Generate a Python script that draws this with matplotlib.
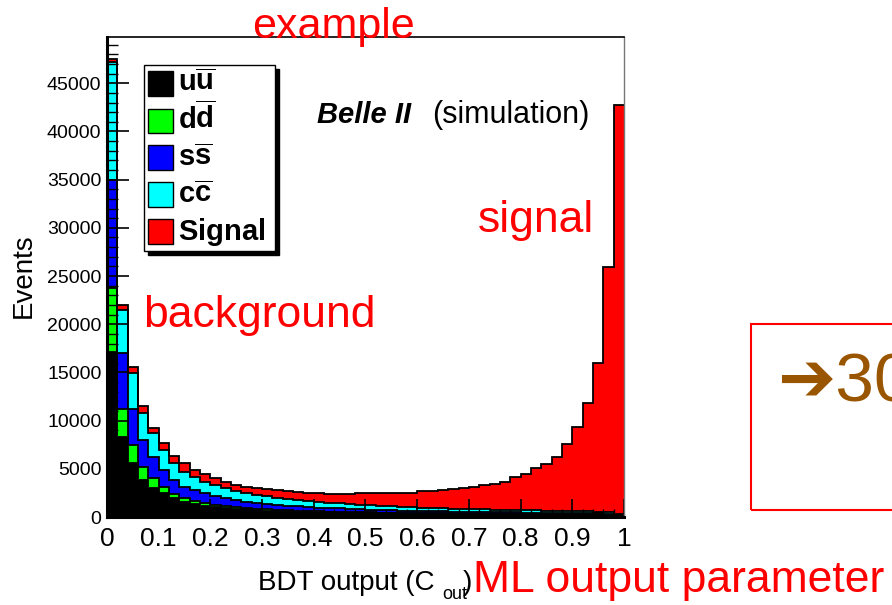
import numpy as np
from matplotlib import pyplot as plt
from matplotlib.patches import Rectangle
from matplotlib.ticker import MultipleLocator

plt.rcParams["font.family"] = ["Liberation Sans", "DejaVu Sans"]
plt.rcParams["mathtext.fontset"] = "custom"
plt.rcParams["mathtext.rm"] = "Liberation Sans"
plt.rcParams["mathtext.bf"] = "Liberation Sans:bold"
plt.rcParams["mathtext.it"] = "Liberation Sans:italic"

# 50 bins of width 0.02 on the BDT output
bin_edges = np.linspace(0.0, 1.0, 51)

uu = [17100, 8300, 5600, 3840, 3010, 2490, 1970, 1560, 1350, 1140,
      1040, 950, 860, 780, 700, 660, 620, 590, 560, 530,
      500, 480, 460, 440, 420, 405, 390, 375, 360, 350,
      340, 330, 320, 310, 300, 292, 285, 278, 272, 266,
      260, 255, 250, 245, 240, 235, 230, 225, 205, 110]
dd = [6650, 2900, 1870, 1350, 1040, 650, 400, 400, 260, 300,
      210, 190, 180, 150, 130, 120, 110, 105, 100, 95,
      90, 85, 80, 75, 72, 70, 67, 64, 62, 60,
      58, 55, 53, 51, 50, 48, 46, 45, 44, 43,
      42, 41, 40, 39, 38, 37, 36, 35, 32, 18]
ss = [11210, 5810, 3730, 2800, 2170, 1770, 1500, 1200, 1200, 1040,
      940, 830, 720, 650, 600, 570, 530, 490, 450, 420,
      390, 370, 350, 330, 310, 295, 280, 265, 250, 240,
      230, 220, 210, 200, 192, 185, 178, 172, 166, 160,
      155, 150, 145, 140, 135, 130, 125, 120, 108, 55]
cc = [12240, 4460, 3740, 2800, 2490, 2070, 1760, 1560, 1300, 1150,
      1120, 1040, 960, 900, 850, 800, 760, 720, 680, 640,
      600, 560, 530, 500, 480, 450, 430, 410, 390, 370,
      350, 335, 320, 305, 295, 285, 275, 265, 255, 248,
      240, 232, 225, 218, 210, 202, 195, 185, 160, 80]
signal = [300, 500, 600, 700, 550, 700, 650, 850, 800, 800,
          750, 650, 620, 620, 700, 800, 830, 830, 850, 850,
          870, 900, 970, 1050, 1170, 1230, 1360, 1420, 1420, 1440,
          1680, 1790, 1900, 2000, 2170, 2270, 2510, 2660, 2890, 3460,
          3760, 4370, 4840, 5550, 6920, 8700, 11200, 15380, 25430, 42480]

components = [uu, dd, ss, cc, signal]
colors = ["#000000", "#00ff00", "#0000ff", "#00ffff", "#ff0000"]
labels = [r"$\mathbf{u}\overline{\mathbf{u}}$", r"$\mathbf{d}\overline{\mathbf{d}}$",
          r"$\mathbf{s}\overline{\mathbf{s}}$", r"$\mathbf{c}\overline{\mathbf{c}}$",
          r"$\mathbf{Signal}$"]
xtick_labels = ["0", "0.1", "0.2", "0.3", "0.4", "0.5", "0.6", "0.7", "0.8", "0.9", "1"]

fig = plt.figure(figsize=(8.92, 6.05), dpi=100)
ax = fig.add_axes([107 / 892, 1 - 517 / 605, 517 / 892, 480 / 605])

stack = np.cumsum(np.array(components, dtype=float), axis=0)
lower = np.vstack([np.zeros(len(uu)), stack[:-1]])
for i in range(len(components)):
    ax.stairs(stack[i], bin_edges, baseline=lower[i], fill=True,
              color=colors[i], linewidth=0, zorder=1)
for i in range(len(components)):
    ax.stairs(stack[i], bin_edges, baseline=None, color="black",
              linewidth=1.3, zorder=1.2)

ax.set_xlim(0, 1)
ax.set_ylim(0, 49800)
ax.xaxis.set_minor_locator(MultipleLocator(0.02))
ax.yaxis.set_major_locator(MultipleLocator(5000))
ax.yaxis.set_minor_locator(MultipleLocator(1000))
ax.set_xticks(np.linspace(0, 1, 11))
ax.set_xticklabels(xtick_labels)
ax.tick_params(axis="x", which="major", direction="in", length=13, width=1.2,
               labelsize=19, pad=7)
ax.tick_params(axis="x", which="minor", direction="in", length=6, width=1)
ax.tick_params(axis="y", which="major", direction="in", length=16, width=1.2,
               labelsize=14, pad=4)
ax.tick_params(axis="y", which="minor", direction="in", length=8, width=1)
for side in ["left", "bottom"]:
    ax.spines[side].set_linewidth(2.2)
ax.spines["top"].set_linewidth(1.2)
ax.spines["right"].set_linewidth(1.0)
ax.spines["right"].set_color("#777777")

# legend box with shadow
leg_x0, leg_y0, leg_w, leg_h = 0.0716, 0.554, 0.2534, 0.388
ax.add_patch(Rectangle((leg_x0 + 0.0085, leg_y0 - 0.009), leg_w, leg_h,
                       transform=ax.transAxes, facecolor="black",
                       edgecolor="black", zorder=5, clip_on=False))
ax.add_patch(Rectangle((leg_x0, leg_y0), leg_w, leg_h, transform=ax.transAxes,
                       facecolor="white", edgecolor="black", linewidth=1,
                       zorder=6, clip_on=False))
row_y = [0.904, 0.825, 0.748, 0.671, 0.594]
for c, lab, y in zip(colors, labels, row_y):
    ax.add_patch(Rectangle((0.0793, y - 0.026), 0.0484, 0.052,
                           transform=ax.transAxes, facecolor=c,
                           edgecolor="black", linewidth=1, zorder=7))
    ax.text(0.1373, y - 0.017, lab, transform=ax.transAxes, fontsize=21,
            va="baseline", ha="left", zorder=8)

fig.text(317 / 892, 1 - 123 / 605, "Belle II", fontsize=21, fontweight="bold",
         fontstyle="italic", va="baseline", ha="left")
fig.text(432 / 892, 1 - 123 / 605, "(simulation)", fontsize=22,
         va="baseline", ha="left")

fig.text(24 / 892, 1 - 275.5 / 605, "Events", fontsize=20, rotation=90,
         ha="center", va="center")
fig.text(258 / 892, 1 - 590 / 605, "BDT output (C", fontsize=20,
         ha="left", va="baseline")
fig.text(442 / 892, 1 - 599 / 605, "out", fontsize=13, ha="left", va="baseline")
fig.text(463 / 892, 1 - 590 / 605, ")", fontsize=20, ha="left", va="baseline")

# slide annotations
red = "#ff0000"
fig.text(333 / 892, 1 - 38 / 605, "example", fontsize=31, color=red,
         ha="center", va="baseline")
fig.text(143 / 892, 1 - 327 / 605, "background", fontsize=32, color=red,
         ha="left", va="baseline")
fig.text(478 / 892, 1 - 232 / 605, "signal", fontsize=32, color=red,
         ha="left", va="baseline")
fig.text(473 / 892, 1 - 592 / 605, "ML output parameter", fontsize=32,
         color=red, ha="left", va="baseline")

fig.patches.append(Rectangle((751 / 892, 1 - 510 / 605), 0.3, 186 / 605,
                             transform=fig.transFigure, facecolor="none",
                             edgecolor=red, linewidth=1.5))
fig.text(777 / 892, 1 - 402 / 605, "\u279430", fontsize=50, color="#9a5500",
         ha="left", va="baseline")

fig.savefig("out.png", dpi=100)
